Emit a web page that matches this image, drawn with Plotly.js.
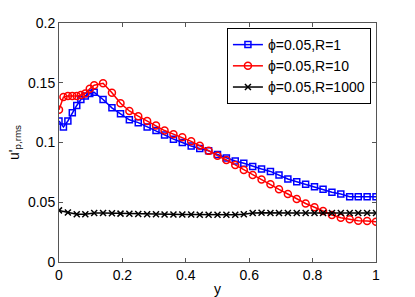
<!DOCTYPE html>
<html>
<head>
<meta charset="utf-8">
<script src="https://cdn.plot.ly/plotly-3.0.1.min.js"></script>
<style>html,body{margin:0;padding:0;background:#fff;}#chart{width:415px;height:297px;}</style>
</head>
<body>
<div id="chart"></div>
<script>
// x positions for R=1 and R=10 series (refined near the wall)
var yFine = [0, 0.014, 0.028, 0.042, 0.056, 0.069, 0.083, 0.097, 0.111, 0.139, 0.167, 0.194, 0.222, 0.25, 0.278, 0.306, 0.333, 0.361, 0.389, 0.417, 0.444, 0.472, 0.5, 0.528, 0.556, 0.583, 0.611, 0.639, 0.667, 0.694, 0.722, 0.75, 0.778, 0.806, 0.833, 0.861, 0.889, 0.917, 0.944, 0.972, 1];
var uR1 = [0.118, 0.113, 0.118, 0.125, 0.131, 0.136, 0.139, 0.141, 0.142, 0.136, 0.129, 0.124, 0.119, 0.1166, 0.113, 0.110, 0.1063, 0.1028, 0.100, 0.097, 0.095, 0.093, 0.090, 0.087, 0.0845, 0.0826, 0.080, 0.0778, 0.0758, 0.0728, 0.0695, 0.0672, 0.065, 0.063, 0.0608, 0.0583, 0.0569, 0.0546, 0.0546, 0.0546, 0.0546];
var uR10 = [0.1275, 0.138, 0.139, 0.139, 0.139, 0.1397, 0.141, 0.145, 0.148, 0.1495, 0.1417, 0.1328, 0.1264, 0.122, 0.118, 0.1143, 0.110, 0.107, 0.1043, 0.101, 0.0973, 0.093, 0.089, 0.0854, 0.0812, 0.077, 0.0728, 0.069, 0.065, 0.0608, 0.0569, 0.0527, 0.049, 0.0458, 0.0427, 0.0393, 0.037, 0.0357, 0.0346, 0.0343, 0.0337];
// x positions for R=1000 series (uniform)
var yUni = [0, 0.028, 0.056, 0.083, 0.111, 0.139, 0.167, 0.194, 0.222, 0.25, 0.278, 0.306, 0.333, 0.361, 0.389, 0.417, 0.444, 0.472, 0.5, 0.528, 0.556, 0.583, 0.611, 0.639, 0.667, 0.694, 0.722, 0.75, 0.778, 0.806, 0.833, 0.861, 0.889, 0.917, 0.944, 0.972, 1];
var uR1000 = [0.0432, 0.0415, 0.0400, 0.0400, 0.0410, 0.0410, 0.0408, 0.0405, 0.0403, 0.0402, 0.0400, 0.0400, 0.0398, 0.0398, 0.0397, 0.0397, 0.0396, 0.0396, 0.0395, 0.0395, 0.0395, 0.0400, 0.0410, 0.0412, 0.0410, 0.0410, 0.0410, 0.0410, 0.0410, 0.0410, 0.0410, 0.0410, 0.0410, 0.0410, 0.0410, 0.0410, 0.0410];
var seriesNames = ['\u03d5=0.05,R=1', '\u03d5=0.05,R=10', '\u03d5=0.05,R=1000'];
var xTicks = [0, 0.2, 0.4, 0.6, 0.8, 1];
var yTicks = [0, 0.05, 0.1, 0.15, 0.2];

var font = {family: 'Liberation Sans, Arial, sans-serif', size: 14, color: '#000'};
var traces = [
  {x: yFine, y: uR1, name: seriesNames[0], mode: 'lines+markers',
   line: {color: '#0000ff', width: 1.5},
   marker: {symbol: 'square-open', size: 6, color: '#0000ff', line: {width: 1.5, color: '#0000ff'}}},
  {x: yFine, y: uR10, name: seriesNames[1], mode: 'lines+markers',
   line: {color: '#ff0000', width: 1.5},
   marker: {symbol: 'circle-open', size: 7, color: '#ff0000', line: {width: 1.5, color: '#ff0000'}}},
  {x: yUni, y: uR1000, name: seriesNames[2], mode: 'lines+markers',
   line: {color: '#000000', width: 1.5},
   marker: {symbol: 'x-thin-open', size: 6, color: '#000000', line: {width: 1.5, color: '#000000'}}}
];
var axisCommon = {
  showgrid: false, zeroline: false, showline: true, mirror: 'ticks',
  linecolor: '#555', linewidth: 1, ticks: 'inside', ticklen: 4, tickcolor: '#555',
  tickfont: font
};
var layout = {
  width: 415, height: 297,
  margin: {l: 59, r: 39, t: 23, b: 35},
  paper_bgcolor: '#fff', plot_bgcolor: '#fff',
  font: font,
  showlegend: true,
  legend: {x: 0.984, y: 0.979, xanchor: 'right', yanchor: 'top',
           bgcolor: '#fff', bordercolor: '#000', borderwidth: 1,
           font: {family: 'Liberation Sans, Arial, sans-serif', size: 14, color: '#000'},
           tracegroupgap: 0, itemwidth: 30},
  xaxis: Object.assign({}, axisCommon, {range: [0, 1], tickvals: xTicks,
           title: {text: 'y', font: font, standoff: 3}}),
  yaxis: Object.assign({}, axisCommon, {range: [0, 0.2], tickvals: yTicks,
           title: {text: "u'<sub>p,rms</sub>", font: font, standoff: 5}})
};
Plotly.newPlot('chart', traces, layout, {displayModeBar: false, staticPlot: true});
</script>
</body>
</html>
